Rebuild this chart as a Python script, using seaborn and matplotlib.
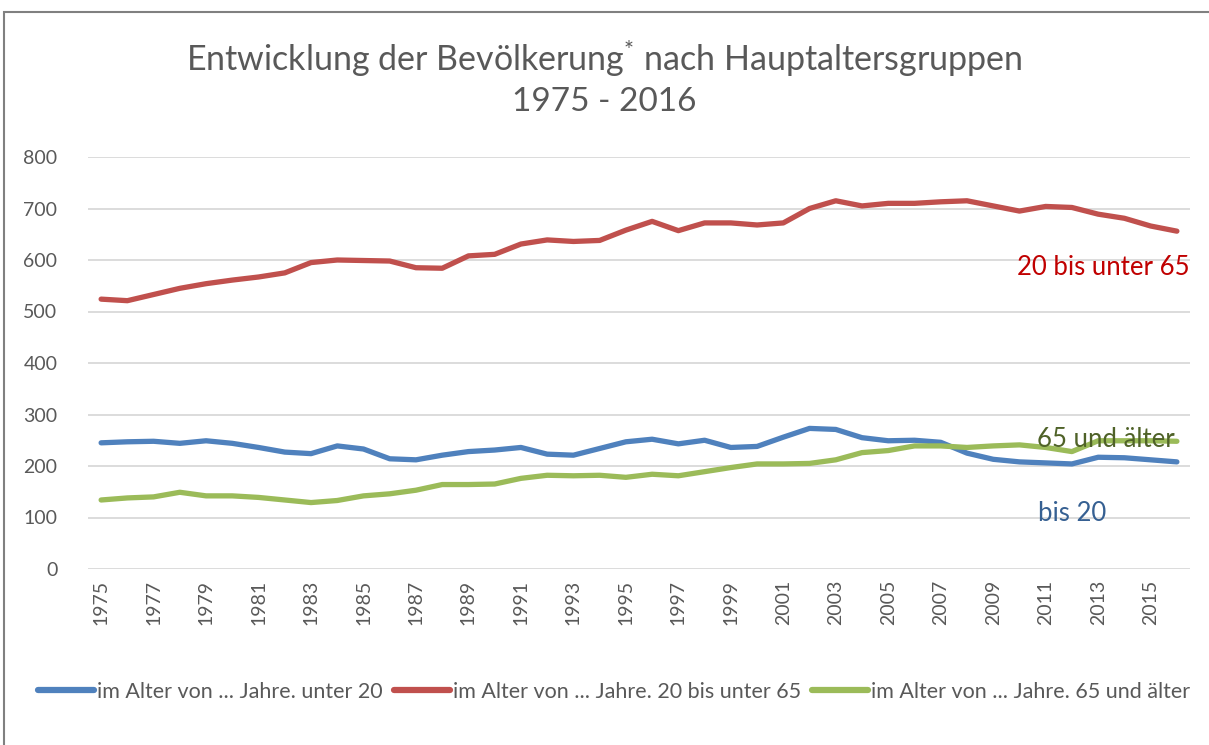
import matplotlib
matplotlib.use("Agg")
import matplotlib.pyplot as plt
import seaborn as sns
import pandas as pd
from matplotlib.patches import Rectangle
from matplotlib.lines import Line2D

years = list(range(1975, 2017))
unter_20 = [245, 247, 248, 244, 249, 244, 236, 227, 224, 239, 233, 214, 212, 221,
            228, 231, 236, 223, 221, 234, 247, 252, 243, 250, 236, 238, 256, 273,
            271, 255, 249, 250, 246, 225, 213, 208, 206, 204, 217, 216, 212, 208]
zw_20_65 = [524, 521, 533, 545, 554, 561, 567, 575, 595, 600, 599, 598, 585, 584,
            608, 611, 631, 639, 636, 638, 658, 675, 657, 672, 672, 668, 672, 700,
            715, 705, 710, 710, 713, 715, 705, 695, 704, 702, 689, 681, 666, 656]
ab_65 = [134, 138, 140, 149, 142, 142, 139, 134, 129, 133, 142, 146, 153, 164,
         164, 165, 176, 182, 181, 182, 178, 184, 181, 189, 197, 204, 204, 205,
         212, 226, 230, 239, 239, 236, 239, 241, 236, 228, 249, 249, 249, 248]

series_names = ["im Alter von ... Jahre. unter 20",
                "im Alter von ... Jahre. 20 bis unter 65",
                "im Alter von ... Jahre. 65 und älter"]
colors = ["#4F81BD", "#C0504D", "#9BBB59"]
y_ticks = [0, 100, 200, 300, 400, 500, 600, 700, 800]
x_tick_years = list(range(1975, 2016, 2))

df = pd.concat([
    pd.DataFrame({"Jahr": years, "Wert": unter_20, "Gruppe": series_names[0]}),
    pd.DataFrame({"Jahr": years, "Wert": zw_20_65, "Gruppe": series_names[1]}),
    pd.DataFrame({"Jahr": years, "Wert": ab_65, "Gruppe": series_names[2]}),
])

sns.set_theme(style="white")
plt.rcParams["font.family"] = ["Lato", "DejaVu Sans"]
plt.rcParams["mathtext.fontset"] = "custom"
plt.rcParams["mathtext.rm"] = "Lato"

fig = plt.figure(figsize=(12.09, 7.45), dpi=100)
ax = fig.add_axes([88/1209, 1-569/745, (1190-88)/1209, (569-157)/745])

sns.lineplot(data=df, x="Jahr", y="Wert", hue="Gruppe", palette=colors,
             linewidth=3.8, ax=ax, legend=False, solid_capstyle="round")

ax.set_xlim(1974.5, 2016.5)
ax.set_ylim(0, 800)
ax.set_yticks(y_ticks)
ax.set_xticks(x_tick_years)
ax.set_xticklabels([str(y) for y in x_tick_years], rotation=90)
ax.grid(axis="y", color="#D9D9D9", linewidth=1.3)
ax.grid(axis="x", visible=False)
for s in ax.spines.values():
    s.set_visible(False)
ax.tick_params(axis="both", length=0, labelsize=14, colors="#595959")
ax.tick_params(axis="y", pad=22)
ax.tick_params(axis="x", pad=8)
ax.set_xlabel("")
ax.set_ylabel("")
ax.set_axisbelow(True)

fig.text(0.5, 1-58/745, r"Entwicklung der Bevölkerung$^{*}$ nach Hauptaltersgruppen",
         ha="center", va="center", fontsize=24.5, color="#595959")
fig.text(0.5, 1-102/745, "1975 - 2016", ha="center", va="center",
         fontsize=24, color="#595959")

ax.text(2016.5, 585, "20 bis unter 65", ha="right", va="center",
        fontsize=18.5, color="#C00000")
ax.text(2015.9, 251, "65 und älter", ha="right", va="center",
        fontsize=18.5, color="#4F6228")
ax.text(2013.3, 108, "bis 20", ha="right", va="center",
        fontsize=18.5, color="#366092")

handles = [Line2D([0], [0], color=c, lw=4.5, solid_capstyle="round") for c in colors]
fig.legend(handles, series_names, loc="center", bbox_to_anchor=(0.508, 1-692/745),
           ncol=3, frameon=False, fontsize=15.5, labelcolor="#595959",
           handlelength=2.6, handletextpad=0.15, columnspacing=0.5)

fig.patches.append(Rectangle((4/1209, -0.1), 1.2, 1-12/745+0.1,
                             transform=fig.transFigure, fill=False,
                             edgecolor="#808080", linewidth=1.5))

fig.savefig("out.png", dpi=100)
